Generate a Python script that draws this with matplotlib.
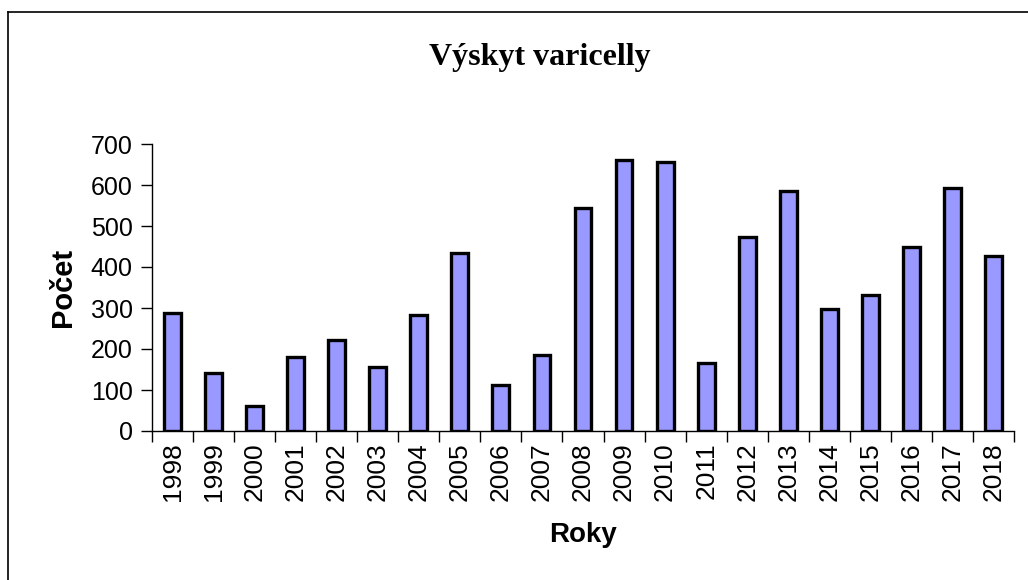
import numpy as np
import matplotlib
matplotlib.use('Agg')
import matplotlib.pyplot as plt
from matplotlib.lines import Line2D

roky = ['1998', '1999', '2000', '2001', '2002', '2003', '2004', '2005', '2006', '2007',
        '2008', '2009', '2010', '2011', '2012', '2013', '2014', '2015', '2016', '2017', '2018']
pocet = [287, 142, 62, 181, 221, 155, 284, 433, 111, 186,
         543, 660, 655, 165, 472, 585, 298, 331, 450, 593, 428]
y_ticks = [0, 100, 200, 300, 400, 500, 600, 700]

plt.rcParams['font.family'] = ['Liberation Sans', 'DejaVu Sans']

W, H = 1028, 580
fig = plt.figure(figsize=(W / 100, H / 100), dpi=100)
ax = fig.add_axes([152 / W, 1 - 431 / H, (1014 - 152) / W, (431 - 144) / H])

x = np.arange(len(roky))
ax.bar(x, pocet, width=0.41, color='#9999ff', edgecolor='black', linewidth=2.4, zorder=3)

ax.set_xlim(-0.5, len(roky) - 0.5)
ax.set_ylim(0, 700)
ax.set_yticks(y_ticks)
ax.set_yticklabels([str(t) for t in y_ticks], fontsize=18)
ax.tick_params(axis='y', length=8, width=1, pad=6)

ax.set_xticks(x)
ax.set_xticklabels(roky, rotation=90, fontsize=19)
ax.tick_params(axis='x', which='major', length=0, pad=8)
ax.set_xticks(np.arange(-0.5, len(roky)), minor=True)
ax.tick_params(axis='x', which='minor', length=8, width=1)

for s in ['top', 'right']:
    ax.spines[s].set_visible(False)
for s in ['left', 'bottom']:
    ax.spines[s].set_linewidth(1)

ax.set_ylabel('Počet', fontsize=21, fontweight='bold', labelpad=10)
ax.set_xlabel('Roky', fontsize=20, fontweight='bold', labelpad=15)

fig.text(540 / W, 1 - 57 / H, 'Výskyt varicelly', ha='center', va='center',
         fontsize=23, fontweight='bold', family=['Liberation Serif', 'DejaVu Serif'])

# ramecek grafu
fig.add_artist(Line2D([8 / W, 8 / W], [0, 1 - 12 / H], color='black', lw=1.2, transform=fig.transFigure))
fig.add_artist(Line2D([8 / W, 1], [1 - 12 / H, 1 - 12 / H], color='black', lw=1.2, transform=fig.transFigure))

fig.savefig('out.png', dpi=100)
